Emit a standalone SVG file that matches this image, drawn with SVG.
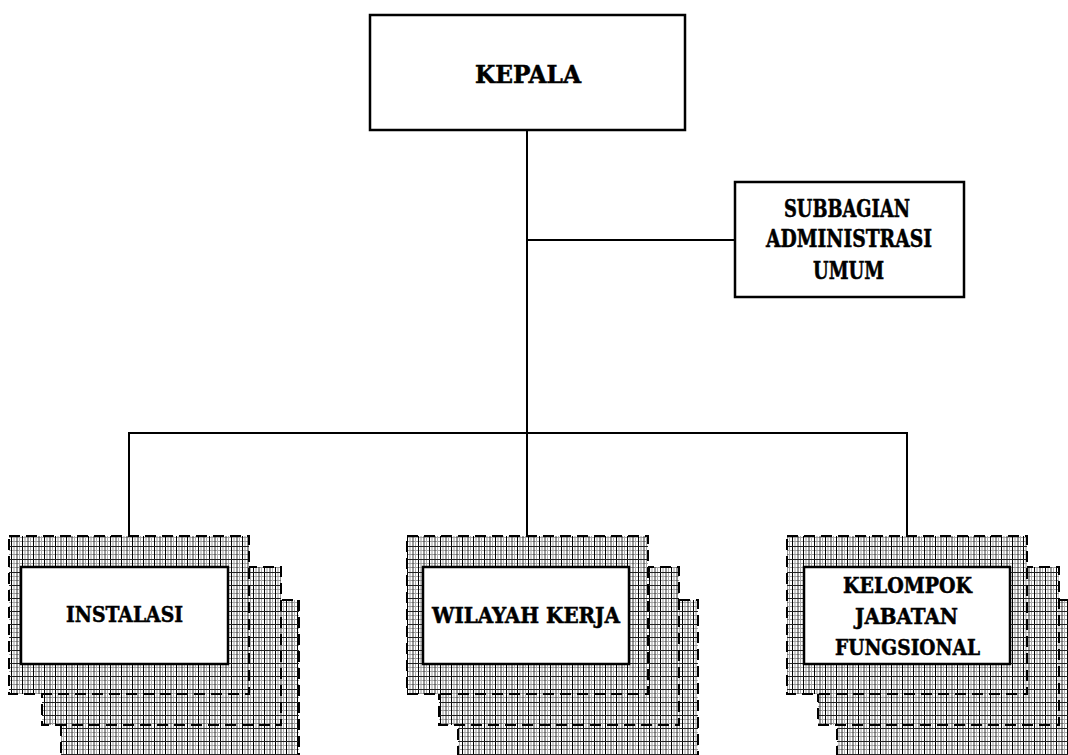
<svg xmlns="http://www.w3.org/2000/svg" width="1068" height="755" viewBox="0 0 1068 755">
<defs>
<pattern id="grid" x="0" y="0" width="11" height="13" patternUnits="userSpaceOnUse">
<rect width="11" height="13" fill="#fff"/>
<line x1="0" y1="4.5" x2="11" y2="4.5" stroke="#aaa" stroke-width="1"/>
<line x1="0" y1="8.5" x2="11" y2="8.5" stroke="#999" stroke-width="1"/>
<line x1="3" y1="0" x2="3" y2="13" stroke="#999" stroke-width="1"/>
<line x1="6" y1="0" x2="6" y2="13" stroke="#333" stroke-width="1"/>
<line x1="8.5" y1="0" x2="8.5" y2="13" stroke="#aaa" stroke-width="1"/>
<line x1="0.5" y1="0" x2="0.5" y2="13" stroke="#000" stroke-width="1"/>
<line x1="0" y1="0.5" x2="11" y2="0.5" stroke="#222" stroke-width="1"/>
</pattern>
</defs>
<style>
.box{fill:#fff;stroke:#000;stroke-width:2.5}
.layer{fill:url(#grid);stroke:#000;stroke-width:2;stroke-dasharray:11 6}
.conn{fill:none;stroke:#000;stroke-width:2}
text{font-family:"DejaVu Serif","Liberation Serif",serif;font-stretch:condensed;font-weight:bold;fill:#000;stroke:#000;stroke-width:0.5;text-anchor:middle}
</style>
<rect width="1068" height="755" fill="#fff"/>
<g id="connectors">
<line class="conn" x1="527" y1="130" x2="527" y2="433"/>
<line class="conn" x1="527" y1="240" x2="735" y2="240"/>
<line class="conn" x1="128" y1="433" x2="908" y2="433"/>
<line class="conn" x1="129" y1="432" x2="129" y2="536"/>
<line class="conn" x1="527" y1="432" x2="527" y2="536"/>
<line class="conn" x1="907" y1="432" x2="907" y2="536"/>
</g>
<g id="kepala">
<rect class="box" x="370" y="15" width="315" height="115"/>
<text x="528" y="83" font-size="24" textLength="106" lengthAdjust="spacingAndGlyphs">KEPALA</text>
</g>
<g id="subbagian">
<rect class="box" x="735" y="182" width="229" height="115"/>
<text x="847" y="217" font-size="24" textLength="126" lengthAdjust="spacingAndGlyphs">SUBBAGIAN</text>
<text x="849" y="247" font-size="24" textLength="166" lengthAdjust="spacingAndGlyphs">ADMINISTRASI</text>
<text x="848.5" y="279" font-size="24" textLength="71" lengthAdjust="spacingAndGlyphs">UMUM</text>
</g>
<g id="instalasi">
<rect class="layer" x="61" y="600" width="238" height="170"/>
<rect class="layer" x="42" y="567" width="239" height="158"/>
<rect class="layer" x="9" y="536" width="240" height="158"/>
<rect class="box" x="21" y="567" width="207" height="97"/>
<text x="124.5" y="622" font-size="22" textLength="117" lengthAdjust="spacingAndGlyphs">INSTALASI</text>
</g>
<g id="wilayah-kerja">
<rect class="layer" x="458" y="600" width="240" height="170"/>
<rect class="layer" x="439" y="567" width="240" height="158"/>
<rect class="layer" x="407" y="536" width="241" height="158"/>
<rect class="box" x="423" y="567" width="206" height="97"/>
<text x="526" y="623" font-size="22" textLength="188" lengthAdjust="spacingAndGlyphs">WILAYAH KERJA</text>
</g>
<g id="kelompok-jabatan-fungsional">
<rect class="layer" x="837" y="600" width="240" height="170"/>
<rect class="layer" x="818" y="567" width="241" height="158"/>
<rect class="layer" x="787" y="536" width="240" height="158"/>
<rect class="box" x="804" y="567" width="206" height="97"/>
<text x="907.5" y="593" font-size="22" textLength="129" lengthAdjust="spacingAndGlyphs">KELOMPOK</text>
<text x="906.5" y="624" font-size="22" textLength="103" lengthAdjust="spacingAndGlyphs">JABATAN</text>
<text x="907.5" y="655" font-size="22" textLength="145" lengthAdjust="spacingAndGlyphs">FUNGSIONAL</text>
</g>
</svg>
